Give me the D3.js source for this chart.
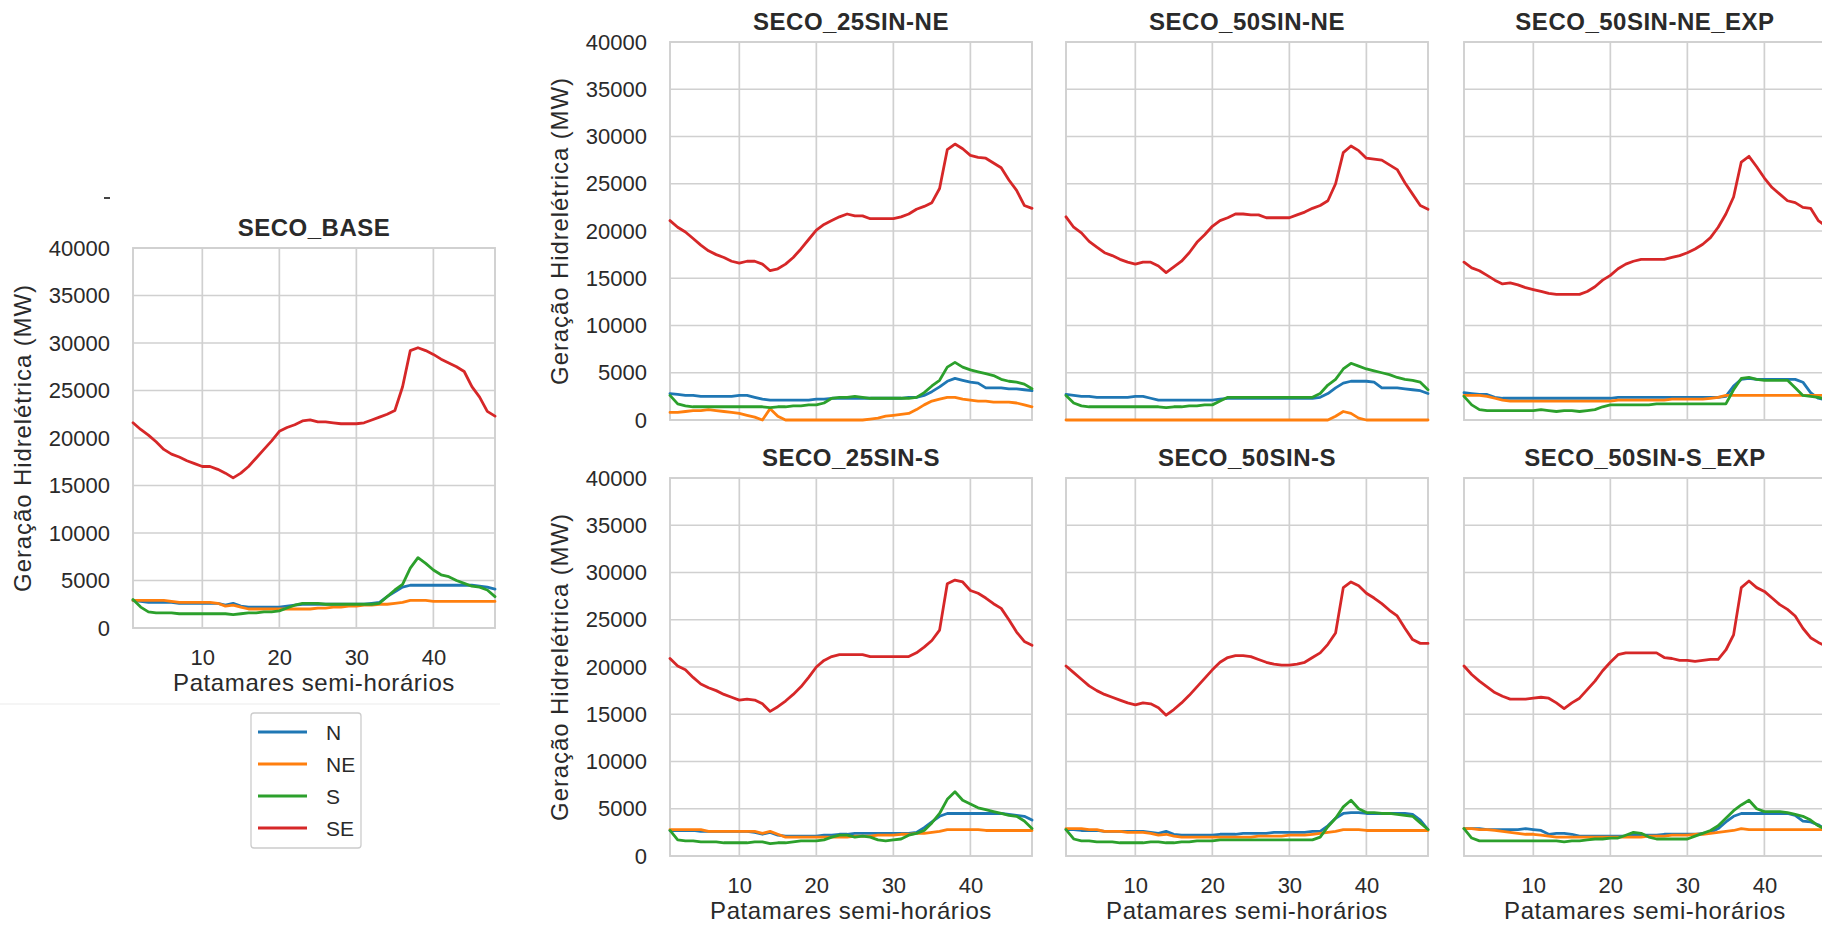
<!DOCTYPE html>
<html><head><meta charset="utf-8">
<script src="https://cdn.jsdelivr.net/npm/d3@7"></script>
<style>
body{margin:0;background:#fff;overflow:hidden}
text{font-family:"Liberation Sans",Arial,Helvetica,sans-serif;fill:#2a2a2a}
</style>
</head><body>
<svg id="chart" width="1822" height="927"></svg>
<script>
// ---------------- DATA ----------------
const patamares = [1,2,3,4,5,6,7,8,9,10,11,12,13,14,15,16,17,18,19,20,21,22,23,24,25,26,27,28,29,30,31,32,33,34,35,36,37,38,39,40,41,42,43,44,45,46,47,48];
const xTickValues = [10,20,30,40];
const yTickValues = [0,5000,10000,15000,20000,25000,30000,35000,40000];
const regions = ["N","NE","S","SE"];
const regionColors = ["#1f77b4","#ff7f0e","#2ca02c","#d62728"];
const panelTitles = ["SECO_BASE","SECO_25SIN-NE","SECO_50SIN-NE","SECO_50SIN-NE_EXP","SECO_25SIN-S","SECO_50SIN-S","SECO_50SIN-S_EXP"];
const xLabel = "Patamares semi-horários";
const yLabel = "Geração Hidrelétrica (MW)";

// SECO_BASE
const base_N  = [2900,2800,2700,2700,2700,2700,2600,2600,2600,2600,2600,2600,2400,2600,2300,2200,2200,2200,2200,2200,2300,2400,2500,2500,2500,2500,2500,2500,2500,2500,2500,2600,2700,3300,3800,4300,4500,4500,4500,4500,4500,4500,4500,4500,4500,4400,4300,4100];
const base_NE = [2900,2900,2900,2900,2900,2800,2700,2700,2700,2700,2700,2600,2300,2400,2200,2000,2000,2000,2000,2000,2000,2000,2000,2000,2100,2100,2200,2200,2300,2300,2400,2400,2500,2500,2600,2700,2900,2900,2900,2800,2800,2800,2800,2800,2800,2800,2800,2800];
const base_S  = [3000,2200,1700,1600,1600,1600,1500,1500,1500,1500,1500,1500,1500,1400,1500,1600,1600,1700,1700,1800,2100,2400,2600,2600,2600,2500,2500,2500,2500,2500,2500,2500,2600,3300,4000,4600,6300,7400,6800,6100,5600,5400,5000,4700,4400,4300,4000,3300];
const base_SE = [21600,20900,20300,19600,18800,18300,18000,17600,17300,17000,17000,16700,16300,15800,16300,17000,17900,18800,19700,20700,21100,21400,21800,21900,21700,21700,21600,21500,21500,21500,21600,21900,22200,22500,22900,25400,29200,29500,29200,28800,28300,27900,27500,27000,25400,24300,22800,22300];

// SECO_25SIN-NE
const ne25_N  = [2800,2700,2600,2600,2500,2500,2500,2500,2500,2600,2600,2400,2200,2100,2100,2100,2100,2100,2100,2200,2200,2300,2300,2300,2300,2300,2300,2300,2300,2300,2300,2400,2400,2600,3000,3500,4100,4400,4200,4000,3900,3400,3400,3400,3300,3300,3200,3100];
const ne25_NE = [800,800,900,1000,1000,1100,1000,900,800,700,500,300,0,1200,400,0,0,0,0,0,0,0,0,0,0,0,100,200,400,500,600,700,1100,1600,2000,2200,2400,2400,2200,2100,2000,2000,1900,1900,1900,1800,1600,1400];
const ne25_S  = [2600,1700,1500,1400,1400,1400,1400,1400,1400,1400,1400,1400,1400,1300,1400,1400,1500,1500,1600,1600,1800,2300,2400,2400,2500,2400,2300,2300,2300,2300,2300,2300,2400,2900,3600,4200,5600,6100,5600,5300,5100,4900,4700,4300,4100,4000,3800,3300];
const ne25_SE = [21100,20400,19900,19200,18500,17900,17500,17200,16800,16600,16800,16800,16500,15800,16000,16500,17200,18100,19100,20100,20700,21100,21500,21800,21600,21600,21300,21300,21300,21300,21500,21800,22300,22600,23000,24500,28600,29200,28700,28000,27800,27700,27200,26700,25400,24300,22700,22400];

// SECO_50SIN-NE
const ne50_N  = [2700,2600,2500,2500,2400,2400,2400,2400,2400,2500,2500,2300,2100,2100,2100,2100,2100,2100,2100,2100,2200,2300,2300,2300,2300,2300,2300,2300,2300,2300,2300,2300,2300,2400,2800,3400,3900,4100,4100,4100,4000,3400,3400,3400,3300,3200,3100,2800];
const ne50_NE = [0,0,0,0,0,0,0,0,0,0,0,0,0,0,0,0,0,0,0,0,0,0,0,0,0,0,0,0,0,0,0,0,0,0,0,400,900,700,200,0,0,0,0,0,0,0,0,0];
const ne50_S  = [2600,1800,1500,1400,1400,1400,1400,1400,1400,1400,1400,1400,1400,1300,1400,1400,1500,1500,1600,1600,2000,2400,2400,2400,2400,2400,2400,2400,2400,2400,2400,2400,2400,2800,3700,4300,5400,6000,5700,5400,5200,5000,4800,4500,4300,4200,4000,3200];
const ne50_SE = [21500,20400,19800,18900,18300,17700,17400,17000,16700,16500,16700,16700,16300,15600,16200,16800,17700,18800,19600,20500,21100,21400,21800,21800,21700,21700,21400,21400,21400,21400,21700,22000,22400,22700,23200,25000,28300,29000,28500,27700,27600,27500,27000,26500,25100,23900,22700,22300];

// SECO_50SIN-NE_EXP
const ne50x_N  = [2900,2800,2700,2700,2400,2300,2300,2300,2300,2300,2300,2300,2300,2300,2300,2300,2300,2300,2300,2300,2400,2400,2400,2400,2400,2400,2400,2400,2400,2400,2400,2400,2400,2400,2500,3600,4300,4400,4300,4300,4300,4300,4300,4300,4000,2900,2300,2100];
const ne50x_NE = [2600,2600,2600,2500,2300,2100,2000,2000,2000,2000,2000,2000,2000,2000,2000,2000,2000,2000,2000,2000,2100,2100,2100,2100,2100,2100,2100,2200,2200,2200,2200,2200,2300,2400,2600,2600,2600,2600,2600,2600,2600,2600,2600,2600,2600,2600,2600,2600];
const ne50x_S  = [2500,1600,1100,1000,1000,1000,1000,1000,1000,1000,1100,1000,900,1000,1000,900,1000,1100,1400,1600,1600,1600,1600,1600,1600,1700,1700,1700,1700,1700,1700,1700,1700,1700,1700,3200,4400,4500,4300,4200,4200,4200,4200,3400,2600,2500,2400,2200];
const ne50x_SE = [16700,16100,15800,15300,14800,14400,14500,14300,14000,13800,13600,13400,13300,13300,13300,13300,13600,14100,14800,15300,16000,16500,16800,17000,17000,17000,17000,17200,17400,17700,18100,18600,19300,20400,21800,23600,27300,27900,26800,25600,24600,23900,23200,23000,22500,22400,21100,20500];

// SECO_25SIN-S
const s25_N  = [2700,2700,2700,2700,2600,2600,2600,2600,2600,2600,2600,2500,2300,2500,2200,2100,2100,2100,2100,2100,2200,2200,2300,2300,2400,2400,2400,2400,2400,2400,2400,2400,2500,3000,3600,4200,4500,4500,4500,4500,4500,4500,4500,4500,4400,4300,4200,3800];
const s25_NE = [2800,2800,2800,2800,2800,2600,2600,2600,2600,2600,2600,2600,2400,2600,2300,2000,2000,2000,2000,2000,2000,2000,2000,2000,2100,2100,2100,2200,2200,2200,2300,2300,2400,2400,2500,2600,2800,2800,2800,2800,2800,2700,2700,2700,2700,2700,2700,2700];
const s25_S  = [2700,1700,1600,1600,1500,1500,1500,1400,1400,1400,1400,1500,1500,1300,1400,1400,1500,1600,1600,1600,1700,2000,2200,2200,2000,2100,2000,1700,1600,1700,1800,2200,2400,2700,3500,4500,6000,6800,5900,5500,5100,4900,4700,4500,4300,4200,3700,2900];
const s25_SE = [20900,20100,19700,18900,18200,17800,17500,17100,16800,16500,16600,16500,16100,15300,15800,16400,17100,17900,18900,20000,20700,21100,21300,21300,21300,21300,21100,21100,21100,21100,21100,21100,21500,22100,22800,23900,28800,29200,29000,28100,27800,27300,26700,26200,25000,23700,22700,22300];

// SECO_50SIN-S
const s50_N  = [2800,2800,2700,2700,2700,2600,2600,2600,2600,2600,2600,2500,2400,2600,2300,2200,2200,2200,2200,2200,2300,2300,2300,2400,2400,2400,2400,2500,2500,2500,2500,2500,2600,2600,3200,4000,4500,4600,4600,4500,4500,4500,4500,4500,4500,4400,3800,2800];
const s50_NE = [2900,2900,2900,2800,2800,2600,2600,2600,2500,2500,2500,2400,2200,2300,2100,2000,2000,2000,2000,2000,2000,2000,2000,2000,2000,2100,2100,2100,2100,2200,2200,2200,2300,2400,2500,2600,2800,2800,2800,2700,2700,2700,2700,2700,2700,2700,2700,2700];
const s50_S  = [2800,1800,1600,1600,1500,1500,1500,1400,1400,1400,1400,1500,1500,1400,1400,1500,1500,1600,1600,1600,1700,1700,1700,1700,1700,1700,1700,1700,1700,1700,1700,1700,1700,2000,3100,4000,5200,5900,5000,4600,4600,4500,4500,4400,4300,4200,3500,2800];
const s50_SE = [20100,19400,18700,18000,17500,17100,16800,16500,16200,16000,16200,16100,15700,14900,15500,16200,17000,17900,18800,19700,20500,21000,21200,21200,21100,20800,20500,20300,20200,20200,20300,20500,21000,21500,22400,23600,28400,29000,28600,27800,27300,26700,26000,25400,24100,22900,22500,22500];

// SECO_50SIN-S_EXP
const s50x_N  = [2900,2900,2900,2800,2800,2800,2800,2800,2900,2800,2700,2300,2400,2400,2300,2100,2100,2100,2100,2100,2100,2100,2200,2200,2200,2200,2300,2300,2300,2300,2300,2400,2500,2900,3600,4200,4500,4500,4500,4500,4500,4500,4500,4300,3700,3600,3300,2800];
const s50x_NE = [2900,2900,2800,2800,2700,2600,2500,2400,2300,2300,2200,2100,2000,2000,2000,2000,2000,2000,2000,2000,2000,2000,2000,2000,2100,2100,2100,2200,2200,2200,2300,2300,2400,2500,2600,2700,2900,2800,2800,2800,2800,2800,2800,2800,2800,2800,2800,2800];
const s50x_S  = [2900,1900,1600,1600,1600,1600,1600,1600,1600,1600,1600,1600,1600,1500,1600,1600,1700,1800,1800,1900,1900,2200,2500,2400,2000,1800,1800,1800,1800,1800,2100,2400,2700,3200,4000,4800,5400,5900,5000,4700,4700,4700,4600,4400,4200,3800,3200,2800];
const s50x_SE = [20100,19200,18500,17900,17300,16900,16600,16600,16600,16700,16800,16700,16200,15600,16200,16700,17600,18500,19600,20500,21300,21500,21500,21500,21500,21500,21000,20900,20700,20700,20600,20700,20800,20800,21800,23400,28400,29100,28400,28000,27300,26600,26100,25400,24100,23100,22600,22200];

// table built from the arrays above
const panelSeries = [
  [base_N, base_NE, base_S, base_SE],
  [ne25_N, ne25_NE, ne25_S, ne25_SE],
  [ne50_N, ne50_NE, ne50_S, ne50_SE],
  [ne50x_N, ne50x_NE, ne50x_S, ne50x_SE],
  [s25_N, s25_NE, s25_S, s25_SE],
  [s50_N, s50_NE, s50_S, s50_SE],
  [s50x_N, s50x_NE, s50x_S, s50x_SE]
];

// ---------------- LAYOUT ----------------
const W = 362;
const layout = [
  {l:133,  t:248, b:628, yt:true,  xt:true},
  {l:670,  t:42,  b:420, yt:true,  xt:false},
  {l:1066, t:42,  b:420, yt:false, xt:false},
  {l:1464, t:42,  b:420, yt:false, xt:false},
  {l:670,  t:478, b:856, yt:true,  xt:true},
  {l:1066, t:478, b:856, yt:false, xt:true},
  {l:1464, t:478, b:856, yt:false, xt:true}
];
const gridColor = "#d0d0d0";

const svg = d3.select("#chart");
svg.append("rect").attr("width",1822).attr("height",927).attr("fill","#fff");

// faint edge of the pasted left image and stray dash
svg.append("line").attr("x1",0).attr("x2",500).attr("y1",704).attr("y2",704)
  .attr("stroke","#ececec").attr("stroke-width",1.2);
svg.append("line").attr("x1",104).attr("x2",110).attr("y1",198).attr("y2",198)
  .attr("stroke","#444").attr("stroke-width",2);

panelTitles.forEach((title, pi) => {
  const L = layout[pi];
  const x = d3.scaleLinear().domain([1,48]).range([L.l, L.l + W]);
  const y = d3.scaleLinear().domain([0,40000]).range([L.b, L.t]);
  const g = svg.append("g");

  // grid
  g.selectAll(".hg").data(yTickValues).join("line")
    .attr("x1", L.l).attr("x2", L.l + W)
    .attr("y1", d => y(d)).attr("y2", d => y(d))
    .attr("stroke", gridColor).attr("stroke-width", 1.7);
  g.selectAll(".vg").data(xTickValues).join("line")
    .attr("x1", d => x(d)).attr("x2", d => x(d))
    .attr("y1", L.t).attr("y2", L.b)
    .attr("stroke", gridColor).attr("stroke-width", 1.7);
  g.append("rect").attr("x", L.l).attr("y", L.t).attr("width", W).attr("height", L.b - L.t)
    .attr("fill","none").attr("stroke", gridColor).attr("stroke-width", 1.9);

  // axes
  if (L.yt) {
    const ya = g.append("g").attr("transform", `translate(${L.l},0)`)
      .call(d3.axisLeft(y).tickValues(yTickValues).tickSize(0).tickPadding(23).tickFormat(d3.format("d")));
    ya.select(".domain").remove();
    ya.selectAll("text").style("font-size","22px").attr("fill","#2a2a2a");
    g.append("text")
      .attr("transform", `translate(${L.l - 102},${(L.t + L.b)/2}) rotate(-90)`)
      .attr("text-anchor","middle").style("font-size","24px").style("letter-spacing","0.9px")
      .text(yLabel);
  }
  if (L.xt) {
    const xa = g.append("g").attr("transform", `translate(0,${L.b})`)
      .call(d3.axisBottom(x).tickValues(xTickValues).tickSize(0).tickPadding(21));
    xa.select(".domain").remove();
    xa.selectAll("text").style("font-size","22px").attr("fill","#2a2a2a");
    g.append("text").attr("x", L.l + W/2).attr("y", L.b + 63)
      .attr("text-anchor","middle").style("font-size","24px").style("letter-spacing","0.6px")
      .text(xLabel);
  }

  // title
  g.append("text").attr("x", L.l + W/2).attr("y", L.t - 12)
    .attr("text-anchor","middle").style("font-size","24px").style("font-weight","bold")
    .style("letter-spacing","0.5px").text(title);

  // lines
  const line = d3.line().x((d,i) => x(patamares[i])).y(d => y(d));
  panelSeries[pi].forEach((vals, si) => {
    g.append("path").datum(vals).attr("d", line)
      .attr("fill","none").attr("stroke", regionColors[si])
      .attr("stroke-width", 2.8).attr("stroke-linejoin","round").attr("stroke-linecap","round");
  });
});

// legend
const lg = svg.append("g");
lg.append("rect").attr("x",251).attr("y",713).attr("width",110).attr("height",135)
  .attr("rx",3).attr("fill","#fff").attr("stroke","#cccccc").attr("stroke-width",1.3);
const legY = d3.scalePoint().domain(regions).range([732, 828]);
regions.forEach((r, i) => {
  lg.append("line").attr("x1",258).attr("x2",307).attr("y1",legY(r)).attr("y2",legY(r))
    .attr("stroke", regionColors[i]).attr("stroke-width",3);
  lg.append("text").attr("x",326).attr("y",legY(r)).attr("dy","0.36em")
    .style("font-size","21px").text(r);
});
</script>
</body></html>
